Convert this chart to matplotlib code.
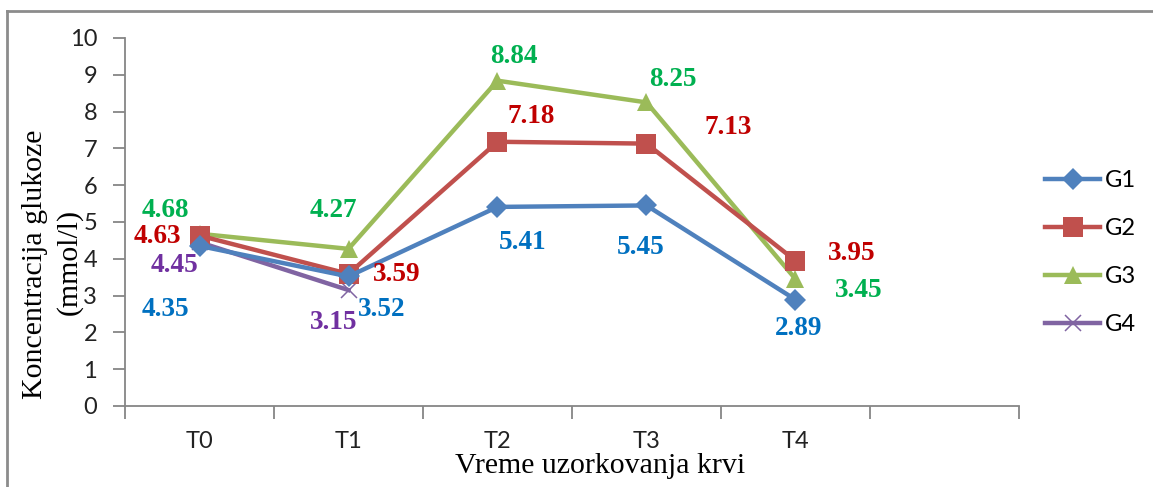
import matplotlib
matplotlib.use("Agg")
import matplotlib.pyplot as plt
from matplotlib.lines import Line2D

# Glucose concentration per group at each sampling time
TIMES = ["T0", "T1", "T2", "T3", "T4"]
G1 = [4.35, 3.52, 5.41, 5.45, 2.89]
G2 = [4.63, 3.59, 7.18, 7.13, 3.95]
G3 = [4.68, 4.27, 8.84, 8.25, 3.45]
G4 = [4.45, 3.15]
GROUPS = ["G1", "G2", "G3", "G4"]

LINE_COLORS = ["#4F81BD", "#C0504D", "#9BBB59", "#8064A2"]
LABEL_COLORS = ["#0070C0", "#C00000", "#00B050", "#7030A0"]
MARKERS = [("D", 11.5), ("s", 14), ("^", 13), ("x", 11)]

# label offsets in pixels (dx, dy) per group / time point
OFFSETS = [
    [(-34, -64), (33, -33), (25, -36), (-6, -42), (3, -29)],
    [(-42, -1), (48, -1), (34, 25), (82, 16), (56, 7)],
    [(-34, 23), (-15, 38), (16, 24), (26, 23), (63, -11)],
    [(-25, -23), (-15, -32)],
]

SANS = "Lato"
SERIF = "Liberation Serif"

fig = plt.figure(figsize=(11.53, 4.87), dpi=100)
ax = fig.add_axes([125 / 1153, 81 / 487, 894 / 1153, 368 / 487])

series = [G1, G2, G3, G4]
for i, vals in enumerate(series):
    x = list(range(len(vals)))
    m, ms = MARKERS[i]
    kw = dict(markeredgewidth=1.1) if m == "x" else dict(markeredgewidth=0)
    ax.plot(x, vals, color=LINE_COLORS[i], lw=3.2, marker=m, ms=ms,
            markerfacecolor=LINE_COLORS[i], markeredgecolor=LINE_COLORS[i],
            label=GROUPS[i], zorder=3 + (3 - i) * 0.1, **kw)
    for j, v in enumerate(vals):
        dx, dy = OFFSETS[i][j]
        ax.annotate(f"{v:.2f}", (j, v), xytext=(dx, dy), textcoords="offset pixels",
                    ha="center", va="center", color=LABEL_COLORS[i],
                    fontsize=19.5, fontweight="bold", family=SERIF, zorder=5)

ax.set_xlim(-0.5, 5.5)
ax.set_ylim(0, 10)
ax.set_yticks(range(0, 11))
ax.set_xticks(range(len(TIMES)))
ax.set_xticklabels(TIMES)
ax.set_xticks([k - 0.5 for k in range(7)], minor=True)
ax.tick_params(axis="x", which="major", length=0, pad=18)
ax.tick_params(axis="x", which="minor", length=9, width=1.3, color="#868686")
ax.tick_params(axis="y", length=9, width=1.3, color="#868686", pad=11)
for lab in ax.get_xticklabels() + ax.get_yticklabels():
    lab.set_family(SANS)
    lab.set_fontsize(17)
    lab.set_color("#222222")

for s in ["top", "right"]:
    ax.spines[s].set_visible(False)
for s in ["left", "bottom"]:
    ax.spines[s].set_color("#868686")
    ax.spines[s].set_linewidth(1.3)

fig.text(600 / 1153, 1 - 466 / 487, "Vreme uzorkovanja krvi",
         ha="center", va="center", family=SERIF, fontsize=21.5)
fig.text(35 / 1153, 1 - 264 / 487, "Koncentracija glukoze", rotation=90,
         ha="center", va="center", family=SERIF, fontsize=21.5)
fig.text(69 / 1153, 1 - 262 / 487, "(mmol/l)", rotation=90,
         ha="center", va="center", family=SERIF, fontsize=21.5)

leg = ax.legend(loc="center left", bbox_to_anchor=(920 / 894, 0.417), frameon=False,
                borderaxespad=0, borderpad=0,
                handlelength=2.35, labelspacing=1.15, handletextpad=0.2,
                prop={"family": SANS, "size": 17})

# chart frame
fig.add_artist(Line2D([7 / 1153, 1.0], [1 - 11 / 487] * 2, color="#8c8c8c", lw=2))
fig.add_artist(Line2D([7 / 1153] * 2, [0, 1 - 11 / 487], color="#8c8c8c", lw=2))

fig.savefig("out.png", dpi=100)
